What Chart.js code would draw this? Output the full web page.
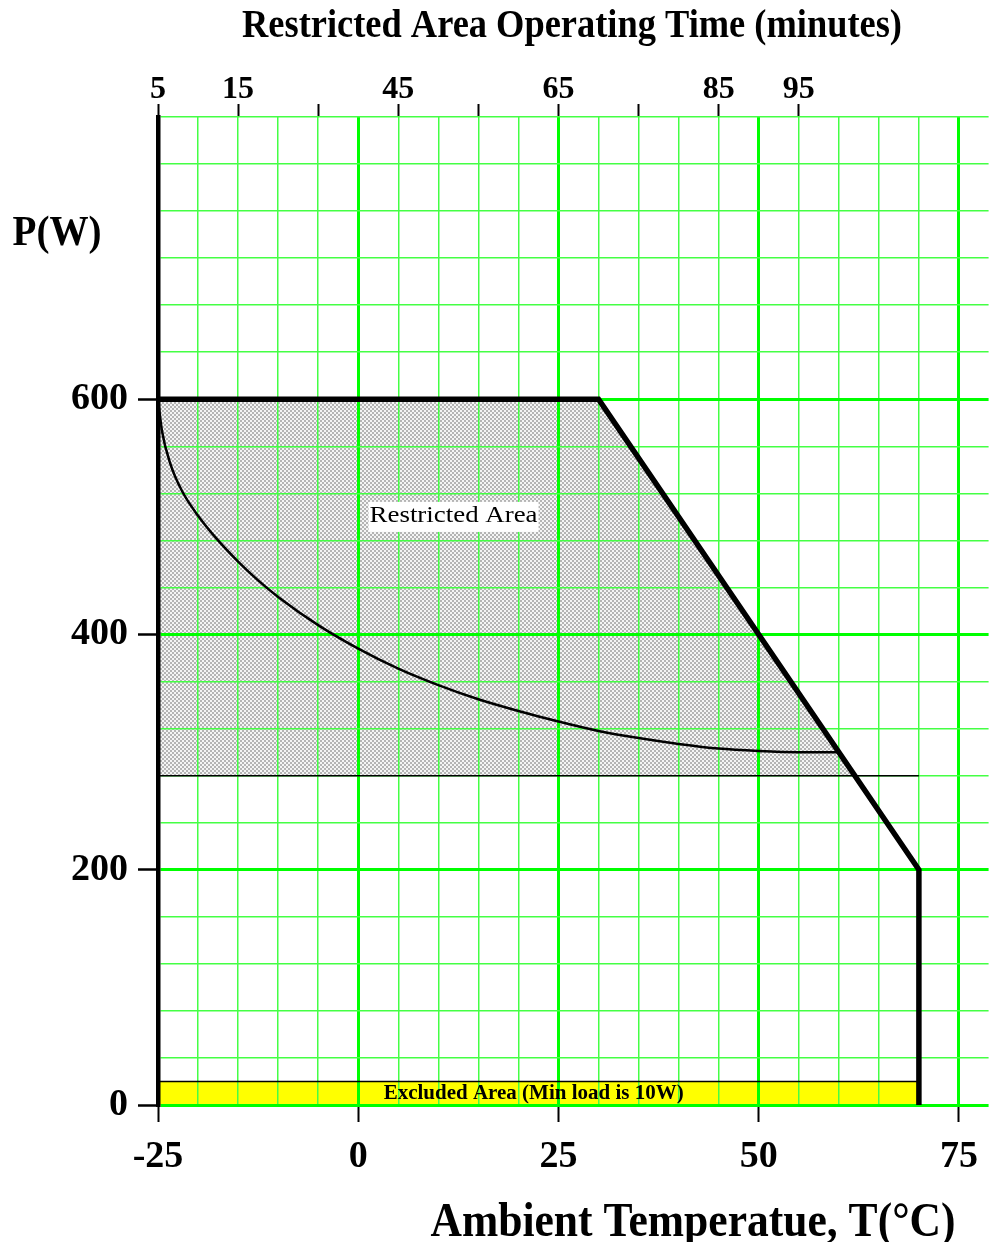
<!DOCTYPE html>
<html lang="en">
<head>
<meta charset="UTF-8">
<title>Restricted Area Operating Time</title>
<script src="https://cdn.jsdelivr.net/npm/chart.js@4.4.1/dist/chart.umd.min.js"></script>
<style>
    html, body { margin: 0; padding: 0; background: #fff; }
    #contenedor { position: relative; width: 990px; height: 1242px; }
</style>
</head>
<body>
<div id="contenedor"><canvas id="grafico"></canvas></div>
<script>
// Curva de tiempo de operación (T en °C, P en W)
const curveTemps = [-25, -24.5, -23.5, -22, -20, -17.5, -15, -12.5, -10, -5, 0, 5, 10, 15, 20, 25, 30, 35, 40, 45, 50, 55, 60];
const curvePowers = [600, 573, 546, 522, 501, 480, 462, 446, 432, 408, 388, 371, 357, 345, 335, 326, 318, 312, 307, 303, 301, 300, 300];

// Curva de derating (línea gruesa)
const derateTemps = [-25, 30, 70, 70];
const deratePowers = [600, 600, 200, 0];

// Zona restringida (rayada) y su límite inferior
const restrictedTemps = [-25, 30, 62];
const restrictedPowers = [600, 600, 280];
const restrictedFloor = 280;
const floorTemps = [-25, 70];
const floorPowers = [280, 280];

// Zona excluida (amarilla)
const excludedTemps = [-25, 70];
const excludedPowers = [20, 20];

// Etiquetas de los ejes
const tempLabels = [-25, 0, 25, 50, 75];
const powerLabels = [0, 200, 400, 600];
const timeTickTemps = [-25, -15, -5, 5, 15, 25, 35, 45, 55];
const timeTickLabels = ['5', '15', '', '45', '', '65', '', '85', '95'];

// Posiciones de los textos dentro del gráfico
const restrictedLabel = { x: 11.9, y: 500 };
const excludedLabel = { x: 21.9, y: 10 };

const FONT = "'Liberation Serif', 'Times New Roman', serif";
const VERDE = '#00ff00';
const VERDE_CLARO = '#44ff44';
const TRANSPARENTE = 'rgba(0,0,0,0)';

// Líneas de la rejilla (cada 5 °C y cada 40 W)
const gridTemps = [];
for (let t = -25; t <= 75; t += 5) gridTemps.push(t);
const gridPowers = [];
for (let p = 0; p <= 840; p += 40) gridPowers.push(p);

function toPoints(xs, ys) {
    return xs.map((x, i) => ({ x: x, y: ys[i] }));
}

// Patrón rayado gris para la zona restringida
function hatchPattern() {
    const c = document.createElement('canvas');
    c.width = 4;
    c.height = 4;
    const g = c.getContext('2d');
    g.fillStyle = '#f4f4f4';
    g.fillRect(0, 0, 4, 4);
    g.fillStyle = '#b4b4b4';
    g.fillRect(0, 0, 2, 2);
    g.fillRect(2, 2, 2, 2);
    return g.createPattern(c, 'repeat');
}

// Texto ajustado a un ancho (la fuente original es muy estrecha)
function drawFitted(ctx, text, cx, baseline, font, width) {
    ctx.save();
    ctx.font = font;
    ctx.fillStyle = '#000';
    ctx.textAlign = 'center';
    ctx.textBaseline = 'alphabetic';
    const w = ctx.measureText(text).width;
    ctx.translate(cx, baseline);
    ctx.scale(width / w, 1);
    ctx.fillText(text, 0, 0);
    ctx.restore();
}

const textosPlugin = {
    id: 'textos',
    afterDraw(chart) {
        const ctx = chart.ctx;
        const sx = chart.scales.x;
        const sy = chart.scales.y;

        drawFitted(ctx, 'Restricted Area Operating Time (minutes)', 572, 37, `bold 39px ${FONT}`, 660);
        drawFitted(ctx, 'P(W)', 57, 245, `bold 42px ${FONT}`, 89);
        drawFitted(ctx, 'Ambient Temperatue, T(°C)', 693, 1236, `bold 48px ${FONT}`, 525);

        const rx = sx.getPixelForValue(restrictedLabel.x);
        const ry = sy.getPixelForValue(restrictedLabel.y);
        ctx.fillStyle = '#fff';
        ctx.fillRect(rx - 85, ry - 15, 170, 30);
        drawFitted(ctx, 'Restricted Area', rx, ry + 5, `24px ${FONT}`, 168);

        const ex = sx.getPixelForValue(excludedLabel.x);
        const ey = sy.getPixelForValue(excludedLabel.y);
        drawFitted(ctx, 'Excluded Area (Min load is 10W)', ex, ey + 6, `bold 20px ${FONT}`, 300);
    }
};

function createChart() {
    const ctx = document.getElementById('grafico').getContext('2d');

    new Chart(ctx, {
        type: 'line',
        data: {
            datasets: [
                {
                    // zona excluida
                    data: toPoints(excludedTemps, excludedPowers),
                    borderColor: '#000',
                    borderWidth: 1.5,
                    backgroundColor: '#ffff00',
                    fill: 'origin'
                },
                {
                    // zona restringida
                    data: toPoints(restrictedTemps, restrictedPowers),
                    borderColor: TRANSPARENTE,
                    borderWidth: 0,
                    backgroundColor: hatchPattern(),
                    fill: { value: restrictedFloor }
                },
                {
                    data: toPoints(floorTemps, floorPowers),
                    borderColor: '#000',
                    borderWidth: 1.5,
                    fill: false
                },
                {
                    data: toPoints(curveTemps, curvePowers),
                    borderColor: '#000',
                    borderWidth: 2.5,
                    cubicInterpolationMode: 'monotone',
                    fill: false
                },
                {
                    data: toPoints(derateTemps, deratePowers),
                    borderColor: '#000',
                    borderWidth: 5.5,
                    borderJoinStyle: 'miter',
                    fill: false
                }
            ]
        },
        options: {
            responsive: true,
            maintainAspectRatio: false,
            animation: false,
            layout: { padding: 0 },
            elements: { point: { radius: 0, hoverRadius: 0 }, line: { tension: 0 } },
            plugins: {
                legend: { display: false },
                tooltip: { enabled: false },
                filler: { drawTime: 'beforeDraw' }
            },
            scales: {
                x: {
                    type: 'linear',
                    position: 'bottom',
                    min: -25,
                    max: 78.7,
                    afterBuildTicks: axis => { axis.ticks = gridTemps.map(v => ({ value: v })); },
                    afterFit: axis => { axis.height = 137; },
                    border: { display: false },
                    grid: {
                        color: c => tempLabels.includes(c.tick.value) ? VERDE : VERDE_CLARO,
                        lineWidth: c => tempLabels.includes(c.tick.value) ? 3 : 1.5,
                        tickColor: c => tempLabels.includes(c.tick.value) ? '#000' : TRANSPARENTE,
                        tickLength: 17,
                        tickWidth: 2
                    },
                    ticks: {
                        autoSkip: false,
                        maxRotation: 0,
                        padding: 12,
                        color: '#000',
                        font: { family: FONT, size: 38, weight: 'bold' },
                        callback: v => tempLabels.includes(v) ? String(v) : ''
                    }
                },
                x2: {
                    type: 'linear',
                    position: 'top',
                    min: -25,
                    max: 78.7,
                    afterBuildTicks: axis => { axis.ticks = timeTickTemps.map(v => ({ value: v })); },
                    afterFit: axis => { axis.height = 117; },
                    border: { display: false },
                    grid: {
                        drawOnChartArea: false,
                        color: '#000',
                        tickLength: 13,
                        tickWidth: 2
                    },
                    ticks: {
                        autoSkip: false,
                        maxRotation: 0,
                        padding: 0,
                        color: '#000',
                        font: { family: FONT, size: 32, weight: 'bold', lineHeight: 0.9 },
                        callback: (v, i) => timeTickLabels[i]
                    }
                },
                y: {
                    type: 'linear',
                    min: 0,
                    max: 840,
                    afterBuildTicks: axis => { axis.ticks = gridPowers.map(v => ({ value: v })); },
                    afterFit: axis => { axis.width = 158; },
                    border: { display: true, color: '#000', width: 4.5 },
                    grid: {
                        color: c => powerLabels.includes(c.tick.value) ? VERDE : VERDE_CLARO,
                        lineWidth: c => powerLabels.includes(c.tick.value) ? 3 : 1.5,
                        tickColor: c => powerLabels.includes(c.tick.value) ? '#000' : TRANSPARENTE,
                        tickLength: 20,
                        tickWidth: 2.5
                    },
                    ticks: {
                        autoSkip: false,
                        padding: 10,
                        color: '#000',
                        font: { family: FONT, size: 38, weight: 'bold' },
                        callback: v => powerLabels.includes(v) ? String(v) : ''
                    }
                }
            }
        },
        plugins: [textosPlugin]
    });
}

createChart();
</script>
</body>
</html>
